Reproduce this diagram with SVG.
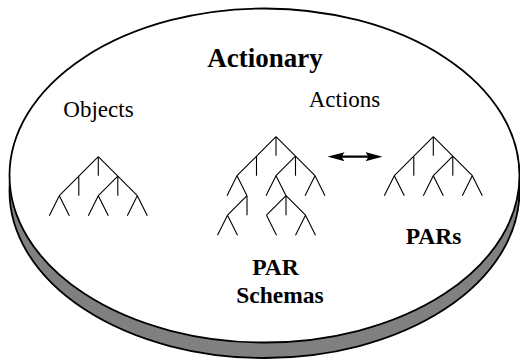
<svg xmlns="http://www.w3.org/2000/svg" width="520" height="362" viewBox="0 0 520 362">
<style>
.disc{stroke:#000;stroke-width:1.8}
.tree{fill:none;stroke:#000;stroke-width:1.1;stroke-linecap:butt}
.t{fill:#000;text-anchor:middle;font-family:'Liberation Serif','DejaVu Serif','Noto Serif',Tinos,Times,'Times New Roman',serif}
.b{font-weight:bold}
.conn{stroke:#000;stroke-width:2.2;fill:none}
</style>
<defs>
<marker id="head" viewBox="0 0 17 9" refX="10.5" refY="4.5" markerWidth="17" markerHeight="9" markerUnits="userSpaceOnUse" orient="auto-start-reverse">
<path d="M0,0 L17,4.5 L0,9 L3,4.5 Z" fill="#000"/>
</marker>
<path id="smalltree" d="M0,0 V19 M0,0 L-39,39 M-19.5,19.5 V39 M0,0 L39,39 M19.5,19.5 L0,39 M19.5,19.5 V39 M-39,39 L-49,59 M-39,39 L-29,59 M0,39 L-10,59 M0,39 L10,59 M39,39 L29,59 M39,39 L49,59"/>
</defs>
<g id="disc">
<ellipse class="disc" cx="264.5" cy="191" rx="255" ry="167" fill="#808080"/>
<ellipse class="disc" cx="264.5" cy="175.5" rx="255" ry="167" fill="#fff"/>
</g>
<g id="title"><text class="t b" x="265" y="67" font-size="27">Actionary</text></g>
<g id="objects">
<text class="t" x="98.5" y="117" font-size="23">Objects</text>
<use href="#smalltree" class="tree" transform="translate(98.3,156.7)"/>
</g>
<g id="actions"><text class="t" x="344.5" y="106.7" font-size="23">Actions</text></g>
<g id="par-schemas">
<path class="tree" d="M276,136.7 V155.7 M276,136.7 L237,175.7 M256.5,156.2 V175.7 M276,136.7 L315,175.7 M295.5,156.2 L276,175.7 M295.5,156.2 V175.7 M237,175.7 L227,195.7 M237,175.7 L247,195.7 M247,195.7 L227.5,215.2 M247,195.7 V215.2 M227.5,215.2 L217.5,235.2 M227.5,215.2 L237.5,235.2 M276,175.7 L266,195.7 M276,175.7 L286,195.7 M286,195.7 L266.5,215.2 M286,195.7 V215.2 M286,195.7 L305.5,215.2 M266.5,215.2 L276.5,235.2 M305.5,215.2 L295.5,235.2 M305.5,215.2 L315.5,235.2 M315,175.7 L305,195.7 M315,175.7 L325,195.7"/>
<text class="t b" x="275.5" y="275" font-size="23.5">PAR</text>
<text class="t b" x="280" y="303.3" font-size="23.5">Schemas</text>
</g>
<g id="pars">
<use href="#smalltree" class="tree" transform="translate(433.3,136.7)"/>
<text class="t b" x="433.5" y="244" font-size="23.5">PARs</text>
</g>
<g id="connectors">
<path class="conn" d="M334,156.7 H376" marker-start="url(#head)" marker-end="url(#head)"/>
</g>
</svg>
